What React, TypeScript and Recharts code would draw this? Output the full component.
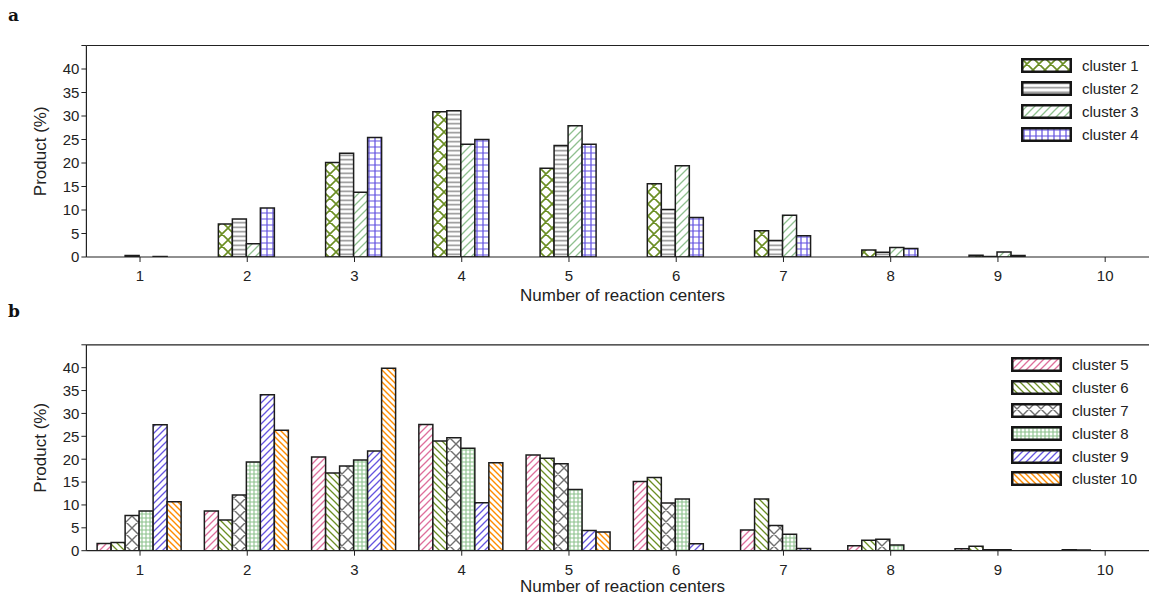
import React from "react";
import { Bar, BarChart, ReferenceLine, XAxis, YAxis } from "recharts";

const CENTERS = ["1", "2", "3", "4", "5", "6", "7", "8", "9", "10"];
const Y_TICKS = [0, 5, 10, 15, 20, 25, 30, 35, 40, 45];

// panel a
const CLUSTER_1 = [0, 7.0, 20.1, 30.9, 18.9, 15.6, 5.6, 1.5, 0.35, 0];
const CLUSTER_2 = [0.3, 8.1, 22.1, 31.1, 23.7, 10.1, 3.5, 1.0, 0.1, 0];
const CLUSTER_3 = [0, 2.8, 13.8, 24.0, 27.9, 19.4, 8.9, 2.0, 1.05, 0];
const CLUSTER_4 = [0.1, 10.4, 25.4, 25.0, 24.0, 8.4, 4.5, 1.8, 0.3, 0];

// panel b
const CLUSTER_5 = [1.6, 8.7, 20.5, 27.6, 20.9, 15.1, 4.5, 1.1, 0.45, 0.2];
const CLUSTER_6 = [1.8, 6.7, 17.0, 24.0, 20.2, 16.0, 11.3, 2.3, 0.95, 0.15];
const CLUSTER_7 = [7.7, 12.2, 18.5, 24.7, 19.0, 10.4, 5.5, 2.5, 0.2, 0];
const CLUSTER_8 = [8.7, 19.4, 19.8, 22.4, 13.4, 11.3, 3.6, 1.25, 0.2, 0];
const CLUSTER_9 = [27.5, 34.1, 21.8, 10.5, 4.4, 1.5, 0.5, 0, 0, 0];
const CLUSTER_10 = [10.7, 26.3, 39.9, 19.2, 4.1, 0, 0, 0, 0, 0];

const SERIES_A = [
  { key: "c1", name: "cluster 1", values: CLUSTER_1, pat: "p1" },
  { key: "c2", name: "cluster 2", values: CLUSTER_2, pat: "p2" },
  { key: "c3", name: "cluster 3", values: CLUSTER_3, pat: "p3" },
  { key: "c4", name: "cluster 4", values: CLUSTER_4, pat: "p4" },
];
const SERIES_B = [
  { key: "c5", name: "cluster 5", values: CLUSTER_5, pat: "p5" },
  { key: "c6", name: "cluster 6", values: CLUSTER_6, pat: "p6" },
  { key: "c7", name: "cluster 7", values: CLUSTER_7, pat: "p7" },
  { key: "c8", name: "cluster 8", values: CLUSTER_8, pat: "p8" },
  { key: "c9", name: "cluster 9", values: CLUSTER_9, pat: "p9" },
  { key: "c10", name: "cluster 10", values: CLUSTER_10, pat: "p10" },
];

const PATTERNS = [
  { id: "p1", kind: "cross", color: "#6b8e23", size: 12, w: 1.6 },
  { id: "p2", kind: "horiz", color: "#8c8c8c", size: 4.5, w: 1.5 },
  { id: "p3", kind: "fwd", color: "#8fc08f", size: 8, w: 1.3 },
  { id: "p4", kind: "grid", color: "#6050e0", size: 6, w: 1.2 },
  { id: "p5", kind: "fwd", color: "#de6f9c", size: 7, w: 1.3 },
  { id: "p6", kind: "back", color: "#6b8e23", size: 7, w: 1.3 },
  { id: "p7", kind: "cross", color: "#707070", size: 12, w: 1.4 },
  { id: "p8", kind: "grid", color: "#8cc28c", size: 4, w: 1.1 },
  { id: "p9", kind: "fwd", color: "#6555e0", size: 7, w: 1.3 },
  { id: "p10", kind: "back", color: "#ff8c00", size: 6, w: 1.4 },
];

const FONT = "'Liberation Sans', Arial, sans-serif";
const INK = "#222";

const toRows = (series: typeof SERIES_A) =>
  CENTERS.map((c, i) => {
    const row: Record<string, string | number> = { center: c };
    series.forEach((s) => (row[s.key] = s.values[i]));
    return row;
  });

function patternPath(kind: string, s: number) {
  const fwd = `M0,${s} L${s},0 M-1,1 L1,-1 M${s - 1},${s + 1} L${s + 1},${s - 1}`;
  const back = `M0,0 L${s},${s} M-1,${s - 1} L1,${s + 1} M${s - 1},-1 L${s + 1},1`;
  if (kind === "fwd") return fwd;
  if (kind === "back") return back;
  if (kind === "cross") return fwd + " " + back;
  if (kind === "horiz") return `M0,${s / 2} L${s},${s / 2}`;
  return `M0,${s / 2} L${s},${s / 2} M${s / 2},0 L${s / 2},${s}`;
}

function PatternDefs() {
  return (
    <svg width={0} height={0} style={{ position: "absolute" }}>
      <defs>
        {PATTERNS.map((p) => (
          <pattern key={p.id} id={p.id} patternUnits="userSpaceOnUse" width={p.size} height={p.size}>
            <rect width={p.size} height={p.size} fill="#fff" />
            <path d={patternPath(p.kind, p.size)} stroke={p.color} strokeWidth={p.w} fill="none" />
          </pattern>
        ))}
      </defs>
    </svg>
  );
}

function LegendBox({ series, left, top }: { series: typeof SERIES_A; left: number; top: number }) {
  return (
    <div style={{ position: "absolute", left, top, fontFamily: FONT, fontSize: 15, color: INK }}>
      {series.map((s) => (
        <div key={s.key} style={{ display: "flex", alignItems: "center", height: 22.8 }}>
          <svg width={51} height={15} style={{ marginRight: 10 }}>
            <rect x={1.25} y={1.25} width={48.5} height={12.5} fill={`url(#${s.pat})`} stroke="#161616" strokeWidth={2.5} />
          </svg>
          <span>{s.name}</span>
        </div>
      ))}
    </div>
  );
}

function XTick(props: any) {
  const { x, y, payload } = props;
  return (
    <text x={x} y={y + 13} textAnchor="middle" dominantBaseline="middle" fontSize={15} fill={INK} fontFamily={FONT}>
      {payload.value}
    </text>
  );
}

function Panel({
  series,
  top,
  height,
  marginTop,
  xAxisHeight,
  xLabelDy,
}: {
  series: typeof SERIES_A;
  top: number;
  height: number;
  marginTop: number;
  xAxisHeight: number;
  xLabelDy: number;
}) {
  const data = toRows(series);
  const padded = series.length === 4;
  return (
    <div style={{ position: "absolute", left: 0, top, width: 1170, height }}>
      <BarChart
        width={1170}
        height={height}
        data={data}
        margin={{ top: marginTop, right: 11.2, left: 0, bottom: 0 }}
        barCategoryGap="10%"
        barGap={0}
      >
        <XAxis
          dataKey="center"
          interval={0}
          height={xAxisHeight}
          tickSize={5}
          tickLine={{ stroke: INK }}
          axisLine={{ stroke: INK, strokeWidth: 1.2 }}
          tick={<XTick />}
          label={(props: any) => {
            const vb = props.viewBox;
            return (
              <text
                x={vb.x + vb.width / 2}
                y={vb.y + xLabelDy}
                textAnchor="middle"
                dominantBaseline="middle"
                fontSize={17}
                fill={INK}
                fontFamily={FONT}
              >
                Number of reaction centers
              </text>
            );
          }}
        />
        <YAxis
          domain={[0, 45]}
          ticks={Y_TICKS}
          allowDataOverflow
          width={86.4}
          tickSize={5}
          tickLine={{ stroke: INK }}
          axisLine={{ stroke: INK, strokeWidth: 1.2 }}
          tickFormatter={(v: number) => (v === 45 ? "" : String(v))}
          tick={{ fontSize: 15, fill: INK, fontFamily: FONT }}
          label={(props: any) => {
            const vb = props.viewBox;
            const cy = vb.y + vb.height / 2;
            return (
              <text
                x={42}
                y={cy}
                transform={`rotate(-90 42 ${cy})`}
                textAnchor="middle"
                dominantBaseline="middle"
                fontSize={17}
                fill={INK}
                fontFamily={FONT}
              >
                Product (%)
              </text>
            );
          }}
        />
        <ReferenceLine y={45} stroke={INK} strokeWidth={1.2} />
        {padded && <Bar dataKey="padLeft" isAnimationActive={false} />}
        {series.map((s) => (
          <Bar
            key={s.key}
            dataKey={s.key}
            name={s.name}
            fill={`url(#${s.pat})`}
            stroke="#1c1c1c"
            strokeWidth={1.5}
            isAnimationActive={false}
          />
        ))}
        {padded && <Bar dataKey="padRight" isAnimationActive={false} />}
      </BarChart>
    </div>
  );
}

export default function App() {
  return (
    <div
      style={{
        position: "fixed",
        left: 0,
        top: 0,
        width: 1149,
        height: 595,
        overflow: "hidden",
        background: "#fff",
      }}
    >
      <PatternDefs />
      <Panel series={SERIES_A} top={0} height={305} marginTop={45.5} xAxisHeight={48} xLabelDy={39.5} />
      <Panel series={SERIES_B} top={300} height={295} marginTop={44.8} xAxisHeight={44.3} xLabelDy={36.5} />
      <LegendBox series={SERIES_A} left={1021} top={54.5} />
      <LegendBox series={SERIES_B} left={1011} top={353.5} />
      <div style={{ position: "absolute", left: 8, top: 5, fontFamily: "'DejaVu Serif', serif", fontWeight: 700, fontSize: 17, color: "#111" }}>
        a
      </div>
      <div style={{ position: "absolute", left: 8, top: 301, fontFamily: "'DejaVu Serif', serif", fontWeight: 700, fontSize: 17, color: "#111" }}>
        b
      </div>
    </div>
  );
}
